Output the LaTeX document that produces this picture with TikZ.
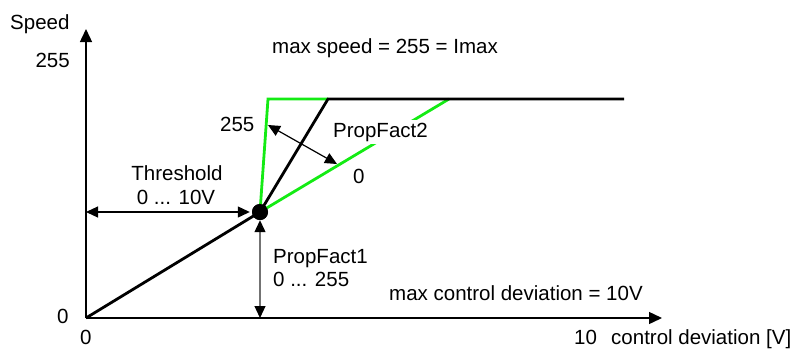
\documentclass[tikz,border=0pt]{standalone}
\usepackage{fontspec}
\setmainfont{Liberation Sans}
\usetikzlibrary{arrows.meta}
\definecolor{lgreen}{RGB}{20,235,20}
\begin{document}
\begin{tikzpicture}[x=1pt,y=-1pt,
  txt/.style={inner sep=0pt, font=\fontsize{20.5}{24}\selectfont},
  axis/.style={line width=1.4pt, -{Triangle[length=13pt,width=12pt]}},
  dblarrow/.style={line width=1.2pt, {Triangle[length=12pt,width=11pt,color=black]}-{Triangle[length=12pt,width=11pt,color=black]}},
  curve/.style={line width=2.8pt, line join=miter},
  gcurve/.style={line width=2.8pt, draw=lgreen, line join=miter}]
\useasboundingbox (0,0) rectangle (796,349);
% coordinates
\coordinate (O) at (86,318);
\coordinate (Ytip) at (86,29);
\coordinate (Xtip) at (662,318);
\coordinate (B1) at (328,99);
\coordinate (B2) at (624,99);
\coordinate (G1) at (268,99);
\coordinate (G2) at (449,99);
\coordinate (TL) at (86,212);
\coordinate (PB) at (260,318);
\coordinate (A1) at (268,125);
\coordinate (A2) at (337,164);
\node[circle, fill=black, minimum size=16pt, inner sep=0pt] (dot) at (260,212) {};
% axes
\draw[axis] (O) -- (Ytip);
\draw[axis] (O) -- (Xtip);
% green curves
\draw[gcurve] (dot.center) -- (G1) -- (B1);
\draw[gcurve] (dot.center) -- (G2);
% black curve
\draw[curve] (O) -- (dot.center) -- (B1) -- (B2);
\node[circle, fill=black, minimum size=16pt, inner sep=0pt] at (dot.center) {};
% arrows
\draw[dblarrow] (TL) -- ([xshift=-2pt]dot.west);
\draw[dblarrow, draw=black!55] (dot.south) -- (PB);
\draw[dblarrow] (A1) -- (A2);
% labels
\node[txt, anchor=base west] (speed) at (10,29) {Speed};
\node[txt, anchor=base east] (y255) at (70,67) {255};
\node[txt, anchor=base west] (maxs) at (272,53) {max speed = 255 = Imax};
\node[txt, anchor=base west] (g255) at (220,131) {255};
\node[txt, anchor=base west, fill=white, inner sep=3pt] (pf2) at (330,137) {PropFact2};
\node[txt, anchor=base west] (g0) at (353,183) {0};
\node[txt, anchor=base] (thr) at (177,180) {Threshold};
\node[txt, anchor=base] (thr2) at (176,204) {0 ... 10V};
\node[txt, anchor=base west] (pf1) at (273,263) {PropFact1};
\node[txt, anchor=base west] (pf1b) at (273,286) {0 ... 255};
\node[txt, anchor=base west] (maxc) at (389,300) {max control deviation = 10V};
\node[txt, anchor=base west] (z1) at (57,323) {0};
\node[txt, anchor=base west] (z2) at (80,344) {0};
\node[txt, anchor=base west] (ten) at (574,344) {10};
\node[txt, anchor=base west] (cd) at (611,344) {control deviation [V]};
\end{tikzpicture}
\end{document}
